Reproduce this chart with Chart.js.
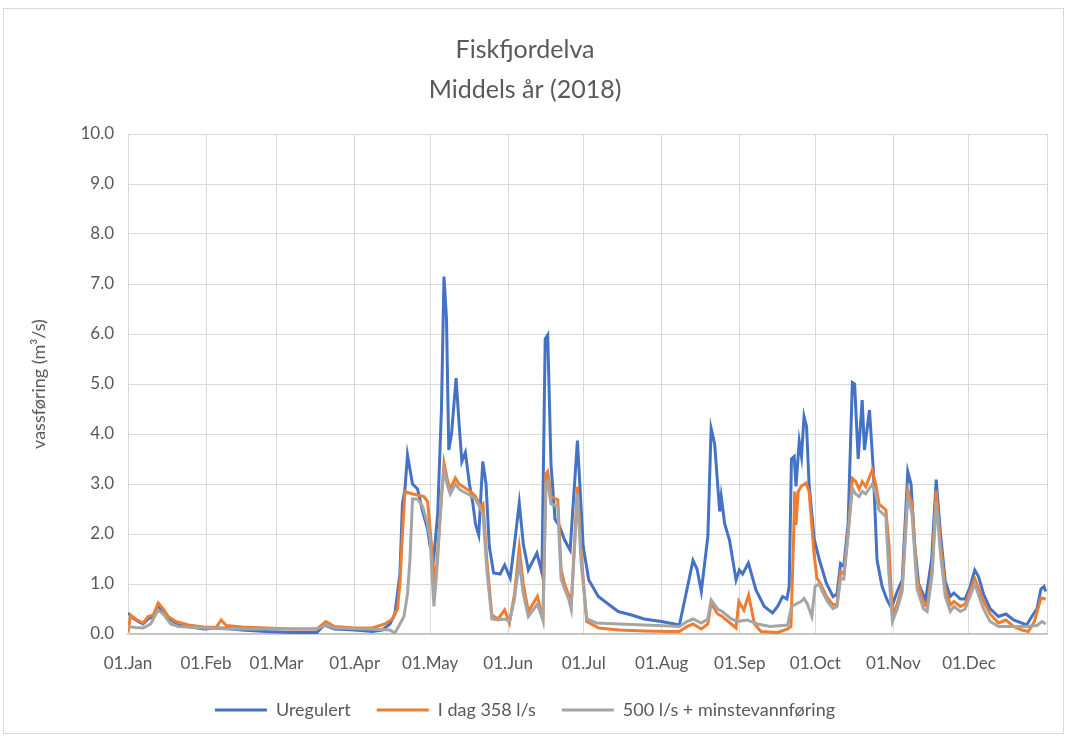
<!DOCTYPE html>
<html>
<head>
<meta charset="utf-8">
<script src="https://cdn.jsdelivr.net/npm/chart.js@4/dist/chart.umd.min.js"></script>
<style>
  html, body { margin: 0; padding: 0; background: #fff; }
  #frame { position: absolute; left: 3px; top: 8px; width: 1061px; height: 726px; border: 1px solid #d9d9d9; box-sizing: border-box; }
  #wrap { position: absolute; left: 0; top: 0; width: 1066px; height: 736px; }
</style>
</head>
<body>
<div id="frame"></div>
<div id="wrap"><canvas id="chart"></canvas></div>
<script>
// Month ticks (day of year) and labels
const tickDays = [0, 31, 59, 90, 120, 151, 181, 212, 243, 273, 304, 334, 365];
const tickLabels = ['01.Jan', '01.Feb', '01.Mar', '01.Apr', '01.May', '01.Jun', '01.Jul', '01.Aug', '01.Sep', '01.Oct', '01.Nov', '01.Dec', ''];

// Uregulert
const uregDays = [0, 2, 4, 6, 8, 10, 12, 14, 16, 19, 24, 30, 37, 45, 55, 65, 75, 78, 82, 90, 97, 101, 104, 106, 108, 109, 110, 111, 113, 115, 117, 119, 120, 121.5, 123, 124.5, 125.5, 126.5, 127.4, 128.5, 130.3, 131.5, 132.6, 134, 135.6, 137, 138, 139.3, 140.9, 142.2, 143.5, 145.2, 147.8, 149.6, 151.8, 153.5, 155.4, 157, 159, 162.4, 164.4, 165.7, 166.7, 168, 169.6, 171.4, 173.4, 175.6, 178.5, 180.8, 183, 186.8, 190.7, 194.7, 200, 205, 211.8, 219, 221.7, 224.4, 226, 227.7, 230.3, 231.6, 233, 235, 235.6, 237, 238.9, 241.5, 242.8, 244.1, 246.4, 249.4, 252.7, 256, 258, 260, 261.7, 262.6, 263.5, 264.6, 265.3, 266.6, 267.5, 268.5, 269.5, 270.5, 272.5, 274.5, 277.4, 280, 281.6, 283, 284.3, 286, 287.7, 288.6, 290, 291.6, 292.5, 294.5, 296, 297.5, 299.5, 301.5, 303.2, 305.5, 307.5, 309.7, 311, 312.4, 314, 316.8, 319.2, 321, 322.7, 324.6, 326.6, 328, 330.6, 332.5, 334.5, 336.3, 337.8, 339.8, 342.4, 345.7, 348.7, 351.7, 356.9, 359.6, 361, 362.6, 363.8, 364.5];
const uregVals = [0.42, 0.32, 0.25, 0.2, 0.3, 0.35, 0.55, 0.45, 0.32, 0.22, 0.15, 0.1, 0.12, 0.08, 0.05, 0.03, 0.03, 0.18, 0.1, 0.08, 0.05, 0.08, 0.2, 0.4, 1.2, 2.6, 2.9, 3.58, 3.0, 2.9, 2.45, 2.1, 1.75, 1.55, 2.4, 4.5, 7.15, 6.3, 3.68, 4.0, 5.12, 4.2, 3.45, 3.63, 3.0, 2.6, 2.2, 1.98, 3.45, 3.0, 1.75, 1.22, 1.2, 1.38, 1.12, 1.8, 2.62, 1.8, 1.28, 1.62, 1.22, 5.9, 5.98, 3.4, 2.3, 2.15, 1.88, 1.68, 3.87, 1.75, 1.08, 0.75, 0.6, 0.45, 0.38, 0.3, 0.25, 0.18, 0.82, 1.47, 1.3, 0.85, 1.95, 4.11, 3.8, 2.45, 2.75, 2.2, 1.88, 1.08, 1.28, 1.2, 1.42, 0.88, 0.55, 0.42, 0.55, 0.75, 0.7, 0.95, 3.5, 3.55, 2.95, 3.85, 3.55, 4.35, 4.15, 3.0, 1.91, 1.5, 1.01, 0.75, 0.8, 1.41, 1.35, 2.2, 5.03, 5.0, 3.5, 4.68, 3.68, 4.48, 3.3, 1.48, 0.95, 0.68, 0.52, 0.85, 1.08, 3.25, 3.0, 1.8, 1.01, 0.68, 1.5, 3.09, 2.0, 1.05, 0.75, 0.82, 0.7, 0.7, 0.95, 1.28, 1.15, 0.8, 0.51, 0.35, 0.4, 0.28, 0.18, 0.4, 0.5, 0.9, 0.95, 0.85];

// I dag 358 l/s
const idagDays = [0, 1, 3, 6, 8, 10, 12, 14, 16, 19, 24, 30, 35, 37, 39, 45, 55, 65, 75, 78.6, 82, 90, 97, 102, 105, 107, 108, 109, 110, 113, 115, 117.5, 119, 120.5, 122, 123.5, 125.5, 127, 128, 130, 131.5, 133, 136, 138, 140, 141, 142.5, 144.5, 147, 149.6, 151.5, 153.5, 155.4, 157, 159, 162.6, 164.8, 166, 166.7, 168, 170.7, 172, 173.4, 175, 176, 178.5, 180, 182.2, 187, 195, 205, 215, 219, 222, 224.4, 227.7, 230.3, 231.6, 234.2, 236, 239.6, 241.5, 242.6, 244.6, 246.5, 248.8, 251.4, 258, 262, 263.3, 264.4, 264.8, 265.3, 266.2, 267.3, 269.3, 270.5, 272.5, 273.6, 275, 277.4, 280, 281.6, 283, 284.3, 286, 287.7, 289, 290.4, 291.6, 293, 295.6, 297, 298.3, 301, 302.2, 303.6, 305.5, 307.5, 309.7, 311.4, 313.4, 316, 317.4, 319.4, 321, 322.7, 324.6, 326.6, 328, 330.6, 332.5, 336.3, 339.8, 342.4, 345.7, 348.7, 351.7, 355, 357.6, 360, 362.6, 364.5];
const idagVals = [0.03, 0.38, 0.3, 0.22, 0.35, 0.38, 0.62, 0.5, 0.35, 0.25, 0.18, 0.14, 0.13, 0.28, 0.17, 0.14, 0.12, 0.1, 0.1, 0.25, 0.15, 0.12, 0.12, 0.2, 0.3, 0.5, 1.0, 2.0, 2.85, 2.8, 2.78, 2.75, 2.65, 1.8, 0.95, 2.0, 3.42, 3.05, 2.9, 3.12, 3.0, 2.95, 2.85, 2.75, 2.55, 2.6, 1.5, 0.38, 0.3, 0.48, 0.22, 0.8, 1.72, 1.0, 0.45, 0.75, 0.3, 3.2, 3.25, 2.75, 2.68, 1.3, 1.0, 0.78, 0.55, 2.95, 1.6, 0.25, 0.12, 0.08, 0.06, 0.05, 0.05, 0.15, 0.2, 0.1, 0.2, 0.61, 0.4, 0.35, 0.2, 0.12, 0.65, 0.48, 0.78, 0.2, 0.05, 0.03, 0.1, 0.15, 2.0, 2.85, 2.18, 2.85, 2.95, 3.02, 2.85, 1.6, 1.12, 1.01, 0.75, 0.58, 0.6, 1.25, 1.2, 2.0, 3.11, 3.05, 2.9, 3.05, 2.95, 3.28, 3.0, 2.6, 2.48, 1.8, 0.38, 0.6, 0.95, 2.88, 2.6, 1.1, 0.6, 0.55, 1.3, 2.87, 1.8, 0.9, 0.58, 0.65, 0.55, 0.6, 1.11, 0.65, 0.4, 0.22, 0.28, 0.15, 0.08, 0.05, 0.25, 0.72, 0.7];

// 500 l/s + minstevannføring
const minsteDays = [0, 3, 6, 9, 12, 14, 17, 20, 30, 40, 60, 75, 78.6, 82, 95, 104, 106, 108, 109.6, 111, 112, 113, 115, 117, 119, 120, 121.5, 123, 124.5, 125.5, 127, 128, 130, 131.5, 133, 135, 138, 140, 141, 142.5, 144.5, 147, 149.6, 151.5, 153.5, 155.4, 157, 159, 162.6, 164.8, 166, 166.7, 168, 170.7, 172, 173.4, 175, 176, 178.5, 180, 182.2, 186, 195, 205, 215, 219, 222, 224.4, 227.7, 230.3, 231.6, 234.2, 236, 239.6, 242, 246, 250, 255, 262, 263.5, 265.3, 267.3, 268.5, 269.8, 271.6, 272.9, 274.5, 275.8, 277.8, 280, 281.6, 283, 284.3, 286, 287.7, 289, 290.4, 291.6, 293, 295.6, 297, 298.2, 301, 302.2, 303.6, 305.5, 307.5, 309.7, 311.4, 313.4, 316, 317.4, 319.4, 321, 322.7, 324.6, 326.6, 328, 330.6, 332.5, 336.3, 339.8, 342.4, 345.7, 351.7, 357, 361, 363, 364.5];
const minsteVals = [0.15, 0.13, 0.12, 0.2, 0.48, 0.4, 0.2, 0.15, 0.12, 0.1, 0.1, 0.1, 0.18, 0.12, 0.1, 0.08, 0.02, 0.2, 0.35, 0.8, 1.5, 2.7, 2.7, 2.55, 2.2, 1.9, 0.55, 1.5, 2.8, 3.28, 2.95, 2.8, 3.0, 2.9, 2.85, 2.8, 2.7, 2.5, 2.4, 1.3, 0.3, 0.28, 0.3, 0.25, 0.7, 1.45, 0.8, 0.35, 0.6, 0.28, 3.0, 3.05, 2.6, 2.55, 1.1, 0.9, 0.7, 0.5, 2.8, 1.4, 0.3, 0.22, 0.2, 0.18, 0.16, 0.15, 0.25, 0.3, 0.22, 0.3, 0.68, 0.5, 0.45, 0.3, 0.25, 0.28, 0.2, 0.15, 0.18, 0.55, 0.6, 0.65, 0.71, 0.6, 0.35, 0.95, 1.0, 0.85, 0.65, 0.51, 0.55, 1.11, 1.1, 2.0, 2.91, 2.8, 2.75, 2.85, 2.8, 3.0, 2.8, 2.48, 2.35, 1.2, 0.25, 0.5, 0.85, 2.75, 2.4, 0.9, 0.5, 0.45, 1.2, 2.65, 1.6, 0.75, 0.45, 0.55, 0.45, 0.5, 1.0, 0.5, 0.25, 0.15, 0.15, 0.15, 0.17, 0.25, 0.2];

const textColor = '#595959';
const fontFamily = 'Lato, "Liberation Sans", sans-serif';

function toPoints(days, vals) {
    return days.map((d, i) => ({ x: d, y: vals[i] }));
}

function lineSet(label, days, vals, color, order) {
    return {
        label: label,
        data: toPoints(days, vals),
        borderColor: color,
        backgroundColor: color,
        borderWidth: 3,
        pointRadius: 0,
        pointStyle: 'line',
        tension: 0,
        order: order
    };
}

const ctx = document.getElementById('chart').getContext('2d');
new Chart(ctx, {
    type: 'line',
    data: {
        datasets: [
            lineSet('Uregulert', uregDays, uregVals, '#4472c4', 3),
            lineSet('I dag 358 l/s', idagDays, idagVals, '#ed7d31', 2),
            lineSet('500 l/s + minstevannføring', minsteDays, minsteVals, '#a5a5a5', 1)
        ]
    },
    options: {
        responsive: true,
        maintainAspectRatio: false,
        animation: false,
        layout: { padding: { left: 0, right: 16, top: 0, bottom: 7 } },
        plugins: {
            title: {
                display: true,
                text: ['Fiskfjordelva', 'Middels år (2018)'],
                color: textColor,
                font: { family: fontFamily, size: 25, weight: 'normal', lineHeight: 1.6 },
                padding: { top: 30, bottom: 24 }
            },
            legend: {
                position: 'bottom',
                labels: {
                    color: textColor,
                    font: { family: fontFamily, size: 18 },
                    usePointStyle: true,
                    pointStyleWidth: 52,
                    padding: 26,
                    sort: (a, b) => a.datasetIndex - b.datasetIndex
                }
            },
            tooltip: { enabled: false }
        },
        scales: {
            x: {
                type: 'linear',
                min: 0,
                max: 365,
                afterBuildTicks: axis => { axis.ticks = tickDays.map(v => ({ value: v })); },
                afterFit: scale => { scale.height = 41; },
                ticks: {
                    autoSkip: false,
                    maxRotation: 0,
                    padding: 19,
                    color: textColor,
                    font: { family: fontFamily, size: 17 },
                    callback: value => tickLabels[tickDays.indexOf(value)] || ''
                },
                grid: { color: '#d9d9d9', lineWidth: 1, drawTicks: false },
                border: { color: '#bfbfbf', width: 1.5 }
            },
            y: {
                min: 0,
                max: 10,
                afterFit: scale => { scale.width = 128; },
                ticks: {
                    stepSize: 1,
                    padding: 14,
                    color: textColor,
                    font: { family: fontFamily, size: 17 },
                    callback: value => value.toFixed(1)
                },
                grid: { color: '#d9d9d9', lineWidth: 1, drawTicks: false },
                border: { color: '#d9d9d9' },
                title: {
                    display: true,
                    text: 'vassføring (m³/s)',
                    color: textColor,
                    font: { family: fontFamily, size: 18 },
                    padding: { top: 28, bottom: 0 }
                }
            }
        }
    }
});
</script>
</body>
</html>
